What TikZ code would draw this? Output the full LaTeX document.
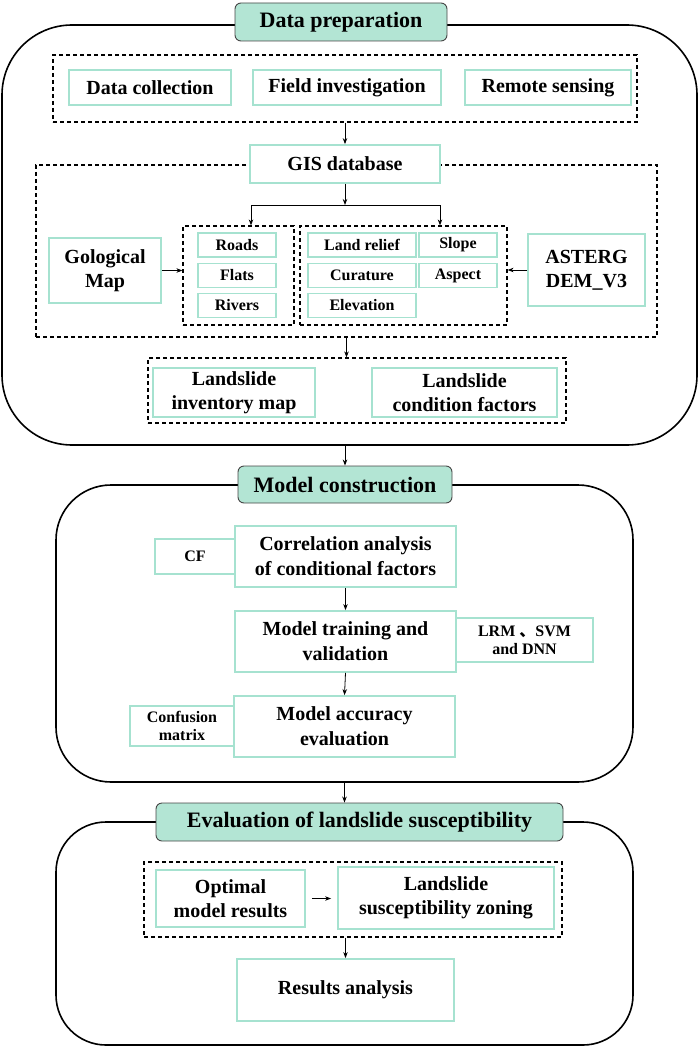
\documentclass[tikz,border=0pt]{standalone}
\usepackage{fontspec}
\setmainfont{Liberation Serif}
\newfontfamily\cjk{Noto Sans CJK SC}
\usetikzlibrary{arrows.meta,positioning}
\definecolor{lsmint}{RGB}{166,226,208}
\definecolor{lshead}{RGB}{179,229,212}
\definecolor{lsgray}{RGB}{70,70,70}

\begin{document}
\begin{tikzpicture}[x=1pt, y=-1pt,
  sz/.style 2 args={minimum width=#1pt, minimum height=#2pt},
  stage/.style={draw=black, line width=1.6pt, rounded corners=#1, inner sep=0pt},
  header/.style={draw=lsgray, fill=lshead, line width=0.9pt, rounded corners=6pt,
    inner sep=0pt, font=\bfseries\fontsize{22}{26}\selectfont},
  dbox/.style={draw=black, dash pattern=on 4pt off 3pt, line width=1.2pt, inner sep=0pt},
  tbox/.style={draw=lsmint, fill=white, line width=1.8pt, inner sep=0pt, align=center,
    font=\bfseries\fontsize{20}{24}\selectfont},
  sbox/.style={tbox, font=\bfseries\fontsize{16}{18}\selectfont},
  arr/.style={-{Stealth[length=6pt,width=4.5pt]}, line width=0.8pt}]
  \useasboundingbox (0,0) rectangle (699,1049);

  % three stages
  \node[stage=70pt, sz={695}{420}] (box1) at (349.5,235) {};
  \node[stage=55pt, sz={577}{297}] (box2) at (344.5,633.5) {};
  \node[stage=50pt, sz={577}{223}] (box3) at (344.5,933.5) {};
  \node[header, sz={212}{38}] (h1) at (341,22) {Data preparation};
  \node[header, sz={214}{37}] (h2) at (345,484.5) {Model construction};
  \node[header, sz={407}{38}] (h3) at (359.5,822) {Evaluation of landslide susceptibility};

  % data preparation
  \node[dbox, sz={584}{67}] (dA) at (345,88.5) {};
  \node[tbox, sz={162}{35}] (dc) at (150,87.5) {Data collection};
  \node[tbox, sz={188}{35}] (fi) at (347,87.5) {Field investigation};
  \node[tbox, sz={166}{35}] (rs) at (548,87.5) {Remote sensing};
  \node[dbox, sz={621}{172}] (dB) at (346.5,251) {};
  \node[tbox, sz={190}{38}] (gis) at (345,164) {GIS database};
  \node[dbox, sz={111}{99}] (subL) at (238.5,275.5) {};
  \node[dbox, sz={207}{99}] (subR) at (403.5,275.5) {};
  \foreach \name/\y/\txt in {roads/245/Roads, flats/275.5/Flats, rivers/305.5/Rivers}
    \node[sbox, sz={78}{24}] (\name) at (237,\y) {\txt};
  \foreach \name/\x/\y/\w/\txt in {relief/362/245/108/Land relief, slope/458/245/78/Slope,
      curv/362/275.5/108/Curature, aspect/458/275.5/78/Aspect, elev/362/305.5/108/Elevation}
    \node[sbox, sz={\w}{24}] (\name) at (\x,\y) {\txt};
  \node[tbox, sz={112}{65}] (geo) at (105,270.5) {Gological\\Map};
  \node[tbox, sz={117}{72}] (aster) at (586.5,270) {ASTERG\\DEM\_V3};
  \node[dbox, sz={418}{65}] (dL) at (357,390.5) {};
  \node[tbox, sz={162}{49}] (lim) at (234,392.5) {Landslide\\inventory map};
  \node[tbox, sz={185}{49}] (lcf) at (464.5,392.5) {Landslide\\condition factors};
  % arrows
  \coordinate (jn) at (345,205);
  \coordinate (jl) at (251,205);
  \coordinate (jr) at (440,205);
  \draw[arr] (dA.south) -- (gis.north);
  \draw[arr] (gis.south) -- (jn);
  \draw[line width=0.8pt] (jl) -- (jr);
  \draw[arr] (jl) -- (jl |- subL.north);
  \draw[arr] (jr) -- (jr |- subR.north);
  \draw[arr] (geo.east) -- (geo.east -| subL.west);
  \draw[arr] (aster.west) -- (aster.west -| subR.east);
  \draw[arr] (dB.south) -- (dB.south |- dL.north);
  \draw[arr] (h2.north |- box1.south) -- (h2.north);

  % model construction
  \node[tbox, sz={221}{61}, font=\bfseries\fontsize{20}{25}\selectfont] (corr) at (345.5,556.5) {Correlation analysis\\of conditional factors};
  \node[sbox, sz={80}{35}] (cf) at (195,556.5) {CF};
  \node[tbox, sz={221}{61}, font=\bfseries\fontsize{20}{25}\selectfont] (train) at (345.5,641.5) {Model training and\\validation};
  \node[sbox, sz={137}{44}] (lrm) at (524.5,640) {LRM {\cjk 、}SVM\\and DNN};
  \node[tbox, sz={221}{61}, font=\bfseries\fontsize{20}{25}\selectfont] (acc) at (344.5,726.5) {Model accuracy\\evaluation};
  \node[sbox, sz={104}{40}] (conf) at (182,726) {Confusion\\matrix};
  \draw[arr] (corr.south) -- (train.north);
  \draw[arr] (train.south) -- (acc.north);
  \draw[arr] (box2.south) -- (box2.south |- h3.north);

  % evaluation of landslide susceptibility
  \node[dbox, sz={418}{75}] (dC) at (353,899.5) {};
  \node[tbox, sz={149}{57}] (opt) at (230.5,898.5) {Optimal\\model results};
  \node[tbox, sz={216}{62}] (zon) at (446,898) {Landslide\\susceptibility zoning};
  \node[tbox, sz={217}{62}] (res) at (345.5,990) {Results analysis};
  \draw[arr, shorten <=6pt, shorten >=6pt] (opt.east) -- (opt.east -| zon.west);
  \draw[arr] (res.north |- dC.south) -- (res.north);
\end{tikzpicture}
\end{document}
